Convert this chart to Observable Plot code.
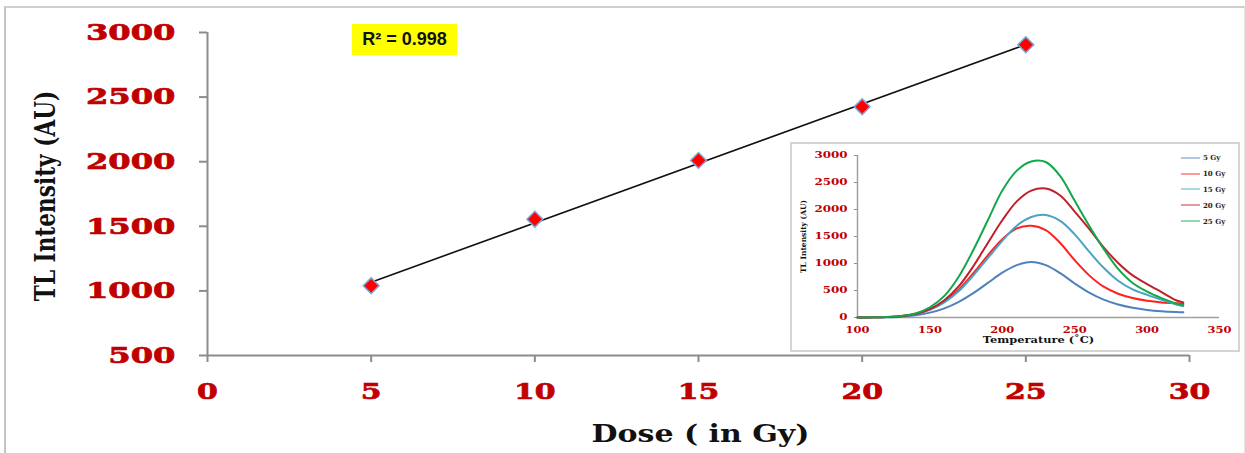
<!DOCTYPE html>
<html>
<head>
<meta charset="utf-8">
<script src="https://cdn.jsdelivr.net/npm/d3@7"></script>
<script src="https://cdn.jsdelivr.net/npm/@observablehq/plot@0.6"></script>
<style>
  html, body { margin: 0; padding: 0; background: #fff; width: 1245px; height: 453px; overflow: hidden; }
  #wrap { position: relative; width: 1245px; height: 453px; }
  #page { position: absolute; left: 4px; top: 6px; width: 1238px; height: 460px;
          border-left: 2px solid #c4c4c4; border-top: 2px solid #cfcfcf; border-right: 1px solid #e6e6e6; }
  #main { position: absolute; left: 0; top: 0; }
  #inset { position: absolute; left: 792px; top: 144px; outline: 2px solid #d4d4d4; background: #fff; }
  #r2 { position: absolute; left: 352px; top: 24px; width: 105px; height: 31px; background: #ffff00;
        font: bold 18px "Liberation Sans", Arial, sans-serif; color: #111; display: flex;
        align-items: center; justify-content: center; }
  #legend { position: absolute; left: 1181px; top: 150px; font: bold 7px "DejaVu Serif", serif; color: #222; }
  #legend .row { height: 15.8px; display: flex; align-items: center; }
  #legend .sw { width: 19px; height: 0; border-top: 2px solid; margin-right: 3px; opacity: 0.45; }
</style>
</head>
<body>
<div id="wrap">
  <div id="page"></div>
  <div id="main"></div>
  <div id="inset"></div>
  <div id="r2">R² = 0.998</div>
  <div id="legend"></div>
</div>
<script>
// ---------- data ----------
const doses = [5, 10, 15, 20, 25];
const tlIntensity = [1040, 1555, 2010, 2425, 2905];
const doseTicks = [0, 5, 10, 15, 20, 25, 30];
const intensityTicks = [500, 1000, 1500, 2000, 2500, 3000];

const temperature = [100,110,120,130,140,150,160,170,180,190,200,210,220,230,240,250,260,270,280,290,300,310,320,325];
const glow5Gy  = [0,2,5,15,40,90,170,290,450,640,830,970,1030,970,820,630,460,330,240,180,140,115,100,95];
const glow10Gy = [0,3,8,25,65,150,300,520,820,1150,1450,1650,1700,1620,1380,1060,780,570,440,360,310,280,265,260];
const glow15Gy = [0,3,8,25,60,140,280,490,780,1100,1420,1700,1860,1900,1790,1540,1220,920,680,520,420,330,240,210];
const glow20Gy = [0,3,8,25,65,155,320,580,950,1380,1800,2150,2350,2390,2260,1960,1640,1300,1010,780,620,470,320,280];
const glow25Gy = [0,3,10,30,75,190,400,760,1250,1800,2350,2720,2890,2880,2620,2160,1700,1270,900,640,480,360,260,230];
const seriesNames = ["5 Gy", "10 Gy", "15 Gy", "20 Gy", "25 Gy"];
const glowTicksX = [100, 150, 200, 250, 300, 350];
const glowTicksY = [0, 500, 1000, 1500, 2000, 2500, 3000];

// ---------- styles ----------
const seriesColors = ["#4f81bd", "#ff2020", "#4aa3c4", "#c0202a", "#12a84a"];
const axisGray = "#8c8c8c";
const tickRed = "#c00000";
const serif = "DejaVu Serif, serif";
const plain = d => String(d);

const pts = doses.map((d, i) => ({dose: d, tl: tlIntensity[i]}));
const glowSeries = [glow5Gy, glow10Gy, glow15Gy, glow20Gy, glow25Gy];
const glow = glowSeries.flatMap((s, k) => s.map((v, i) => ({T: temperature[i], v, series: seriesNames[k]})));

function stretchSel(sel, sx, strokeColor, strokeW) {
  sel.each(function () {
    const t = this.getAttribute("transform") || "";
    this.setAttribute("transform", t + ` scale(${sx},1)`);
    if (strokeColor) { this.setAttribute("stroke", strokeColor); this.setAttribute("stroke-width", strokeW); }
  });
}
function stretch(svg, label, sx, strokeColor, strokeW) {
  stretchSel(d3.select(svg).selectAll(`g[aria-label="${label}"] text`), sx, strokeColor, strokeW);
}
function stretchText(svg, content, sx) {
  stretchSel(d3.select(svg).selectAll("text").filter(function () { return this.textContent === content; }), sx);
}

// ---------- main chart ----------
const main = Plot.plot({
  width: 1245, height: 453,
  marginLeft: 207, marginRight: 56, marginTop: 32, marginBottom: 98,
  x: {domain: [0, 30]},
  y: {domain: [500, 3000]},
  style: {background: "transparent", overflow: "visible"},
  marks: [
    Plot.axisX({ticks: doseTicks, tickSize: 7, stroke: axisGray, color: axisGray, strokeWidth: 2, tickFormat: () => "", label: null}),
    Plot.axisY({ticks: intensityTicks, tickSize: 8, stroke: axisGray, color: axisGray, strokeWidth: 2, tickFormat: () => "", label: null}),
    Plot.axisX({ticks: doseTicks, tickSize: 0, tickPadding: 27, tickFormat: plain, color: tickRed, fontSize: 23, fontWeight: "bold", fontFamily: serif, label: null}),
    Plot.axisY({ticks: intensityTicks, tickSize: 0, tickPadding: 32, tickFormat: plain, color: tickRed, fontSize: 23, fontWeight: "bold", fontFamily: serif, label: null}),
    Plot.ruleY([500], {stroke: axisGray, strokeWidth: 2}),
    Plot.ruleX([0], {stroke: axisGray, strokeWidth: 2}),
    Plot.linearRegressionY(pts, {x: "dose", y: "tl", stroke: "#111", strokeWidth: 1.6, ci: 0}),
    Plot.dot(pts, {x: "dose", y: "tl", symbol: "square", rotate: 45, r: 6.3, fill: "#ff0000", stroke: "#7aa6d6", strokeWidth: 1.5}),
    Plot.text(["TL Intensity (AU)"], {frameAnchor: "left", textAnchor: "middle", dx: -161, dy: 2, rotate: -90, fontSize: 27, fontWeight: "bold", fontFamily: serif, fill: "#111"}),
    Plot.text(["Dose ( in Gy)"], {frameAnchor: "bottom", dy: 86, dx: 2, fontSize: 25, fontWeight: "bold", fontFamily: serif, fill: "#111"})
  ]
});
stretch(main, "x-axis tick label", 1.3, tickRed, 0.7);
stretch(main, "y-axis tick label", 1.4, tickRed, 0.7);
stretchText(main, "TL Intensity (AU)", 0.8);
stretchText(main, "Dose ( in Gy)", 1.2);
document.getElementById("main").appendChild(main);

// ---------- inset chart ----------
const inset = Plot.plot({
  width: 446, height: 206,
  marginLeft: 65, marginRight: 19, marginTop: 11, marginBottom: 33,
  x: {domain: [100, 350]},
  y: {domain: [0, 3000]},
  color: {domain: seriesNames, range: seriesColors},
  style: {background: "white", overflow: "visible"},
  marks: [
    Plot.axisY({ticks: glowTicksY, tickSize: 3, color: axisGray, tickFormat: () => "", label: null}),
    Plot.axisX({ticks: glowTicksX, tickSize: 0, tickPadding: 9, tickFormat: plain, color: tickRed, fontSize: 8.5, fontWeight: "bold", fontFamily: serif, label: null}),
    Plot.axisY({ticks: glowTicksY, tickSize: 0, tickPadding: 10, tickFormat: plain, color: tickRed, fontSize: 8.5, fontWeight: "bold", fontFamily: serif, label: null}),
    Plot.ruleY([0], {stroke: "#a0a0a0", strokeWidth: 1.5}),
    Plot.ruleX([100], {stroke: "#a0a0a0", strokeWidth: 1.5}),
    Plot.line(glow, {x: "T", y: "v", stroke: "series", z: "series", curve: "catmull-rom", strokeWidth: 2}),
    Plot.text(["TL Intensity (AU)"], {frameAnchor: "left", textAnchor: "middle", dx: -54, rotate: -90, fontSize: 7.5, fontWeight: "bold", fontFamily: serif, fill: "#111"}),
    Plot.text(["Temperature (˚C)"], {frameAnchor: "bottom", dy: 25, fontSize: 9.5, fontWeight: "bold", fontFamily: serif, fill: "#111"})
  ]
});
stretch(inset, "x-axis tick label", 1.35);
stretch(inset, "y-axis tick label", 1.4);
stretchText(inset, "Temperature (˚C)", 1.2);
document.getElementById("inset").appendChild(inset);

// ---------- inset legend ----------
const legend = d3.select("#legend");
seriesNames.forEach((name, i) => {
  const row = legend.append("div").attr("class", "row");
  row.append("span").attr("class", "sw").style("border-color", seriesColors[i]);
  row.append("span").text(name);
});
</script>
</body>
</html>
